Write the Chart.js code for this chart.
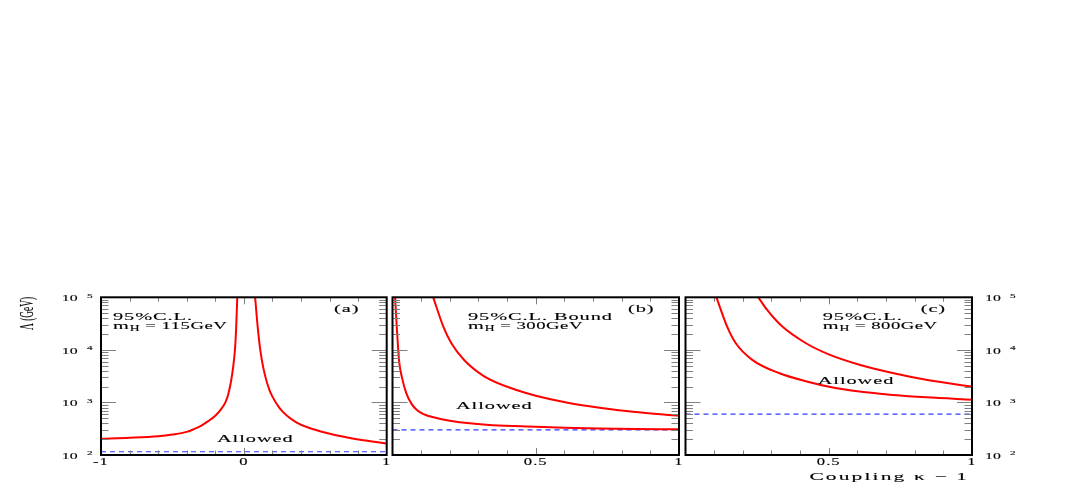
<!DOCTYPE html>
<html>
<head>
<meta charset="utf-8">
<script src="https://cdn.jsdelivr.net/npm/chart.js@4.4.1/dist/chart.umd.min.js"></script>
<style>
  html, body { margin: 0; padding: 0; background: #fff; }
  #wrap { position: relative; width: 1090px; height: 491px; }
  #wrap canvas { position: absolute; left: 0; top: 0; }
</style>
</head>
<body>
<div id="wrap">
  <canvas id="panelA" width="1090" height="491"></canvas>
  <canvas id="panelB" width="1090" height="491"></canvas>
  <canvas id="panelC" width="1090" height="491"></canvas>
</div>
<script>
// Lambda bound (GeV) vs coupling kappa-1

// panel (a), mH = 115 GeV
const aLeftK  = [-1, -0.8, -0.6, -0.5, -0.4, -0.35, -0.3, -0.25, -0.2, -0.16, -0.13, -0.11, -0.09, -0.075, -0.063, -0.055, -0.046];
const aLeftL  = [204, 213, 228, 245, 275, 310, 360, 440, 560, 740, 990, 1400, 2500, 4700, 9500, 22000, 100000];
const aRightK = [0.079, 0.094, 0.11, 0.125, 0.15, 0.178, 0.2, 0.25, 0.3, 0.37, 0.45, 0.58, 0.7, 0.813, 1];
const aRightL = [100000, 33000, 12700, 6600, 3130, 1750, 1290, 780, 565, 415, 333, 262, 222, 195, 166];
const aHiggs = 115;

// panel (b), mH = 300 GeV
const bLowK = [0.009, 0.015, 0.023, 0.033, 0.048, 0.067, 0.085, 0.108, 0.15, 0.2, 0.27, 0.35, 0.5, 0.6, 0.72, 0.85, 1];
const bLowL = [100000, 27000, 6150, 3000, 1500, 930, 720, 600, 510, 450, 400, 370, 345, 330, 318, 312, 310];
const bUpK  = [0.142, 0.177, 0.205, 0.25, 0.32, 0.43, 0.5, 0.607, 0.723, 0.839, 1];
const bUpL  = [100000, 28000, 13500, 6400, 3140, 1740, 1343, 1000, 796, 665, 557];
const bHiggs = 300;

// panel (c), mH = 800 GeV
const cLowK = [0.108, 0.145, 0.175, 0.233, 0.326, 0.43, 0.506, 0.607, 0.723, 0.84, 1];
const cLowL = [100000, 28000, 13500, 6460, 3630, 2450, 1960, 1610, 1390, 1250, 1130];
const cUpK  = [0.254, 0.285, 0.337, 0.419, 0.5, 0.607, 0.723, 0.84, 1];
const cUpL  = [100000, 57500, 28000, 13500, 8200, 5210, 3630, 2700, 2000];
const cHiggs = 600;

// axes
const yDecades = [100, 1000, 10000, 100000];
const yExponents = ['2', '3', '4', '5'];
const yMinorSteps = [2, 3, 4, 5, 6, 7, 8, 9];
const aTicksX = [-0.8, -0.6, -0.4, -0.2, 0.2, 0.4, 0.6, 0.8];
const aMajorX = [0];
const aLabelsX = [-1, 0, 1];
const bcTicksX = [0.1, 0.2, 0.3, 0.4, 0.6, 0.7, 0.8, 0.9];
const bcMajorX = [0.5];
const bcLabelsX = [0.5, 1];

const FONT = '"Liberation Serif", "Times New Roman", serif';

function pts(xs, ys) {
    return xs.map((x, i) => ({ x: x, y: ys[i] }));
}

function curve(xs, ys) {
    return {
        data: pts(xs, ys),
        borderColor: '#ff0000',
        borderWidth: 2,
        pointRadius: 0,
        showLine: true,
        cubicInterpolationMode: 'monotone'
    };
}

function higgsLine(lo, hi, m) {
    return {
        data: pts([lo, hi], [m, m]),
        borderColor: '#2b3bff',
        borderWidth: 1.1,
        borderDash: [5, 4],
        pointRadius: 0,
        showLine: true
    };
}

// stretched serif text, ROOT style
function rootText(ctx, str, x, y, size, sx, ls, align) {
    ctx.save();
    ctx.font = size + 'px ' + FONT;
    ctx.letterSpacing = ls + 'px';
    const w = ctx.measureText(str).width * sx;
    let x0 = x;
    if (align === 'right') x0 = x - w;
    if (align === 'center') x0 = x - w / 2;
    ctx.translate(x0, y);
    ctx.scale(sx, 1);
    ctx.textAlign = 'left';
    ctx.textBaseline = 'alphabetic';
    ctx.fillStyle = '#000';
    ctx.strokeStyle = 'rgba(0,0,0,0.6)';
    ctx.lineWidth = 0.2;
    ctx.fillText(str, 0, 0);
    ctx.strokeText(str, 0, 0);
    ctx.restore();
    return w;
}

function massLabel(ctx, x, y, rest) {
    let cx = x;
    cx += rootText(ctx, 'm', cx, y, 11, 1.85, 0.5, 'left');
    cx += rootText(ctx, 'H', cx, y + 2.5, 8, 1.7, 0.3, 'left');
    rootText(ctx, rest, cx, y, 11, 1.7, 0.3, 'left');
}

const rootFrame = {
    id: 'rootFrame',
    afterDatasetsDraw(chart, args, opts) {
        const ctx = chart.ctx;
        const a = chart.chartArea;
        const xs = chart.scales.x;
        const ys = chart.scales.y;
        ctx.save();

        // tick marks, pointing inwards on all four sides
        ctx.strokeStyle = '#808080';
        ctx.lineWidth = 1;
        ctx.beginPath();
        const xTick = (v, len) => {
            const px = Math.round(xs.getPixelForValue(v)) + 0.5;
            ctx.moveTo(px, a.bottom); ctx.lineTo(px, a.bottom - len);
            ctx.moveTo(px, a.top); ctx.lineTo(px, a.top + len);
        };
        opts.xMinor.forEach(v => xTick(v, 4.5));
        opts.xMajor.forEach(v => xTick(v, 7));
        const yTick = (v, len) => {
            const py = Math.round(ys.getPixelForValue(v)) + 0.5;
            ctx.moveTo(a.left, py); ctx.lineTo(a.left + len, py);
            ctx.moveTo(a.right, py); ctx.lineTo(a.right - len, py);
        };
        yDecades.forEach((d, i) => {
            yTick(d, 15);
            if (i < yDecades.length - 1) yMinorSteps.forEach(m => yTick(d * m, 7.5));
        });
        ctx.stroke();

        // frame
        ctx.strokeStyle = '#000';
        ctx.lineWidth = 2;
        ctx.strokeRect(a.left, a.top, a.right - a.left, a.bottom - a.top);

        // x tick labels
        opts.xLabels.forEach(v => {
            rootText(ctx, String(v), xs.getPixelForValue(v), a.bottom + 10, 9.5, 1.75, 0.6, 'center');
        });
        // y tick labels
        if (opts.ySide) {
            yDecades.forEach((d, i) => {
                const py = ys.getPixelForValue(d);
                if (opts.ySide === 'left') {
                    rootText(ctx, '10', a.left - 23.5, py + 3.8, 9, 1.75, 0, 'right');
                    rootText(ctx, yExponents[i], a.left - 14, py + 0.3, 7, 1.6, 0, 'left');
                } else {
                    rootText(ctx, '10', a.right + 13, py + 3.8, 9, 1.75, 0, 'left');
                    rootText(ctx, yExponents[i], a.right + 38, py + 0.3, 7, 1.6, 0, 'left');
                }
            });
        }
        // annotations
        opts.notes.forEach(n => rootText(ctx, n.t, n.x, n.y, 11, 1.85, 0.5, 'left'));
        massLabel(ctx, opts.mass.x, opts.mass.y, opts.mass.t);

        // axis titles
        if (opts.yTitle) {
            ctx.save();
            ctx.translate(32.5, 330);
            ctx.rotate(-Math.PI / 2);
            rootText(ctx, 'Λ (GeV)', 0, 0, 18, 0.52, 0, 'left');
            ctx.restore();
        }
        if (opts.xTitle) {
            rootText(ctx, 'Coupling κ − 1', a.right - 3, 479.5, 11, 1.95, 1.1, 'right');
        }
        ctx.restore();
    }
};

function makePanel(id, xMin, xMax, datasets, pad, frameOpts) {
    return new Chart(document.getElementById(id), {
        type: 'scatter',
        data: { datasets: datasets },
        plugins: [rootFrame],
        options: {
            responsive: false,
            animation: false,
            events: [],
            layout: { padding: pad },
            scales: {
                x: {
                    type: 'linear', min: xMin, max: xMax,
                    grid: { display: false }, border: { display: false },
                    ticks: { display: false },
                    afterFit: s => { s.height = 0; }
                },
                y: {
                    type: 'logarithmic', min: 100, max: 100000,
                    grid: { display: false }, border: { display: false },
                    ticks: { display: false },
                    afterFit: s => { s.width = 0; }
                }
            },
            plugins: {
                legend: { display: false },
                tooltip: { enabled: false },
                rootFrame: frameOpts
            }
        }
    });
}

makePanel('panelA', -1, 1,
    [curve(aLeftK, aLeftL), curve(aRightK, aRightL), higgsLine(-1, 1, aHiggs)],
    { left: 101, right: 703.3, top: 297.3, bottom: 36 },
    {
        xMinor: aTicksX, xMajor: aMajorX, xLabels: aLabelsX, ySide: 'left', yTitle: true,
        notes: [
            { t: '95%C.L.', x: 113, y: 320 },
            { t: '(a)', x: 334, y: 311.5 },
            { t: 'Allowed', x: 217, y: 441.7 }
        ],
        mass: { t: ' = 115GeV', x: 113, y: 328.5 }
    });

makePanel('panelB', 0, 1,
    [curve(bLowK, bLowL), curve(bUpK, bUpL), higgsLine(0, 1, bHiggs)],
    { left: 392.5, right: 411, top: 297.3, bottom: 36 },
    {
        xMinor: bcTicksX, xMajor: bcMajorX, xLabels: bcLabelsX, ySide: null,
        notes: [
            { t: '95%C.L. Bound', x: 468, y: 320 },
            { t: '(b)', x: 628, y: 311.5 },
            { t: 'Allowed', x: 456, y: 409 }
        ],
        mass: { t: ' = 300GeV', x: 468, y: 328.5 }
    });

makePanel('panelC', 0, 1,
    [curve(cLowK, cLowL), curve(cUpK, cUpL), higgsLine(0, 1, cHiggs)],
    { left: 685.5, right: 118, top: 297.3, bottom: 36 },
    {
        xMinor: bcTicksX, xMajor: bcMajorX, xLabels: bcLabelsX, ySide: 'right', xTitle: true,
        notes: [
            { t: '95%C.L.', x: 822.7, y: 320 },
            { t: '(c)', x: 920.7, y: 311.5 },
            { t: 'Allowed', x: 817.7, y: 384 }
        ],
        mass: { t: ' = 800GeV', x: 822.7, y: 328.5 }
    });
</script>
</body>
</html>
